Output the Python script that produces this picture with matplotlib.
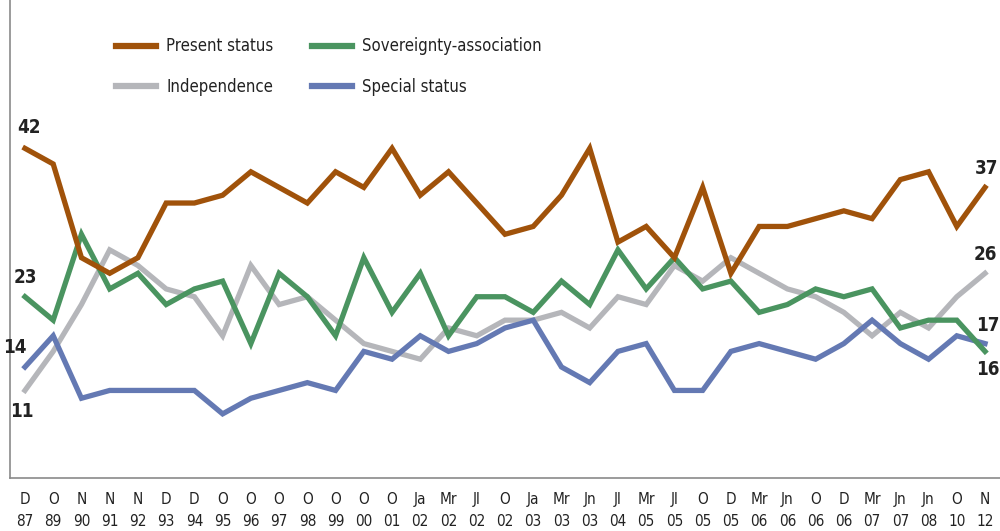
import matplotlib
matplotlib.use("Agg")
import matplotlib.pyplot as plt

months = ["D", "O", "N", "N", "N", "D", "D", "O", "O", "O", "O", "O", "O", "O",
          "Ja", "Mr", "Jl", "O", "Ja", "Mr", "Jn", "Jl", "Mr", "Jl", "O", "D",
          "Mr", "Jn", "O", "D", "Mr", "Jn", "Jn", "O", "N"]
years = ["87", "89", "90", "91", "92", "93", "94", "95", "96", "97", "98", "99",
         "00", "01", "02", "02", "02", "02", "03", "03", "03", "04", "05", "05",
         "05", "05", "06", "06", "06", "06", "07", "07", "08", "10", "12"]

present_status = [42, 40, 28, 26, 28, 35, 35, 36, 39, 37, 35, 39, 37, 42, 36, 39,
                  35, 31, 32, 36, 42, 30, 32, 28, 37, 26, 32, 32, 33, 34, 33, 38,
                  39, 32, 37]
sovereignty = [23, 20, 31, 24, 26, 22, 24, 25, 17, 26, 23, 18, 28, 21, 26, 18,
               23, 23, 21, 25, 22, 29, 24, 28, 24, 25, 21, 22, 24, 23, 24, 19,
               20, 20, 16]
independence = [11, 16, 22, 29, 27, 24, 23, 18, 27, 22, 23, 20, 17, 16, 15, 19,
                18, 20, 20, 21, 19, 23, 22, 27, 25, 28, 26, 24, 23, 21, 18, 21,
                19, 23, 26]
special_status = [14, 18, 10, 11, 11, 11, 11, 8, 10, 11, 12, 11, 16, 15, 18, 16,
                  17, 19, 20, 14, 12, 16, 17, 11, 11, 16, 17, 16, 15, 17, 20, 17,
                  15, 18, 17]

C_PRESENT = "#A0520A"
C_SOV = "#4A9460"
C_IND = "#B5B6BA"
C_SPEC = "#6479B3"

plt.rcParams['font.family'] = ['DejaVu Sans']
plt.rcParams['font.stretch'] = 'condensed'

fig = plt.figure(figsize=(10, 5.31), dpi=100)
ax = fig.add_axes([0.010, 0.100, 0.990, 0.900])

x = list(range(len(months)))
lw = 3.8
l_ind, = ax.plot(x, independence, color=C_IND, lw=lw, label="Independence",
                 solid_joinstyle="miter", zorder=2)
l_spec, = ax.plot(x, special_status, color=C_SPEC, lw=lw, label="Special status",
                  solid_joinstyle="miter", zorder=3)
l_sov, = ax.plot(x, sovereignty, color=C_SOV, lw=lw, label="Sovereignty-association",
                 solid_joinstyle="miter", zorder=4)
l_pres, = ax.plot(x, present_status, color=C_PRESENT, lw=lw, label="Present status",
                  solid_joinstyle="miter", zorder=5)

ax.set_xlim(-0.53, 34.53)
ax.set_ylim(-0.2, 61)

ax.set_xticks(x)
ax.set_xticklabels([f"{m}\n{y}" for m, y in zip(months, years)],
                   fontsize=11, color="#222222", linespacing=1.6)
ax.tick_params(axis="x", length=0, pad=10)
ax.set_yticks([])
for s in ["top", "right"]:
    ax.spines[s].set_visible(False)
for s in ["left", "bottom"]:
    ax.spines[s].set_color("#8a8a8a")
    ax.spines[s].set_linewidth(1.2)

lab_kw = dict(fontsize=13.5, fontweight="bold", color="#222222",
              textcoords="offset points")
ax.annotate(str(present_status[0]), (x[0], present_status[0]), xytext=(3, 8),
            ha="center", va="bottom", **lab_kw)
ax.annotate(str(sovereignty[0]), (x[0], sovereignty[0]), xytext=(0, 7),
            ha="center", va="bottom", **lab_kw)
ax.annotate(str(special_status[0]), (x[0], special_status[0]), xytext=(-7, 7),
            ha="center", va="bottom", **lab_kw)
ax.annotate(str(independence[0]), (x[0], independence[0]), xytext=(-2, -8),
            ha="center", va="top", **lab_kw)
ax.annotate(str(present_status[-1]), (x[-1], present_status[-1]), xytext=(1, 7),
            ha="center", va="bottom", **lab_kw)
ax.annotate(str(independence[-1]), (x[-1], independence[-1]), xytext=(0, 7),
            ha="center", va="bottom", **lab_kw)
ax.annotate(str(special_status[-1]), (x[-1], special_status[-1]), xytext=(2, 6),
            ha="center", va="bottom", **lab_kw)
ax.annotate(str(sovereignty[-1]), (x[-1], sovereignty[-1]), xytext=(2, -6),
            ha="center", va="top", **lab_kw)

leg = ax.legend(handles=[l_pres, l_ind, l_sov, l_spec], ncol=2,
                loc="upper left", bbox_to_anchor=(0.092, 0.953),
                frameon=False, fontsize=12, handlelength=2.4,
                handletextpad=0.6, columnspacing=2.35, labelspacing=1.35)
for t in leg.get_texts():
    t.set_color("#222222")
for h in leg.legend_handles:
    h.set_linewidth(4.5)

fig.savefig("out.png", dpi=100)
